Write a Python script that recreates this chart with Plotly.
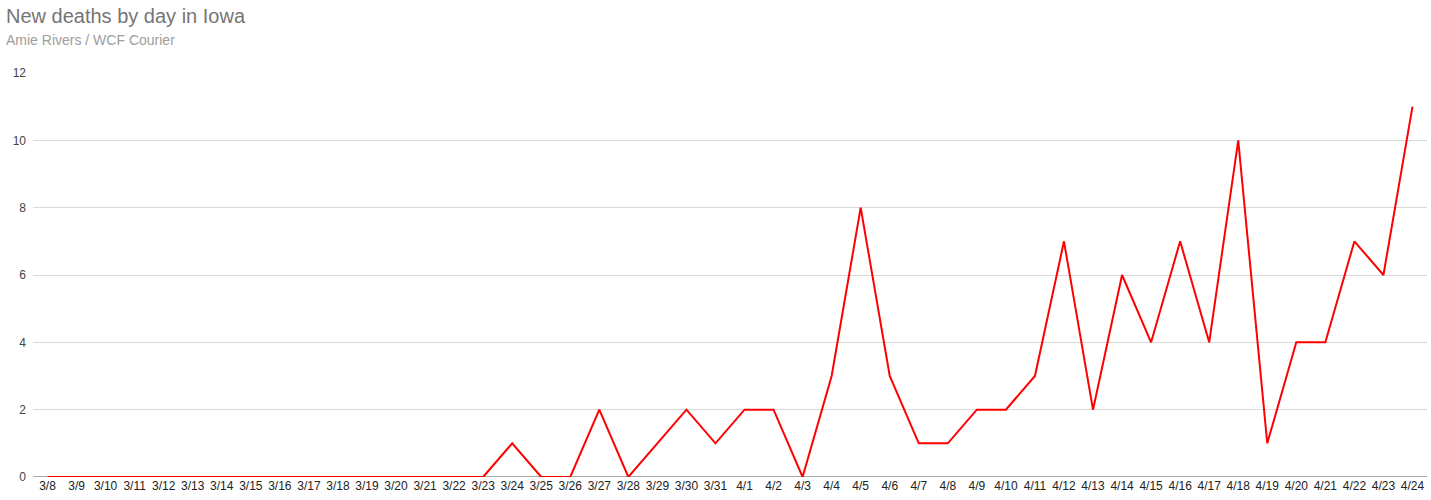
import plotly.graph_objects as go

dates = [f"3/{d}" for d in range(8, 32)] + [f"4/{d}" for d in range(1, 25)]
deaths = [0]*16 + [1, 0, 0, 2, 0, 1, 2, 1,
                   2, 2, 0, 3, 8, 3, 1, 1, 2, 2, 3, 7, 2, 6, 4, 7, 4, 10, 1, 4, 4, 7, 6, 11]
y_ticks = [0, 2, 4, 6, 8, 10, 12]

fig = go.Figure()
fig.add_trace(go.Scatter(x=list(range(len(dates))), y=deaths, mode="lines",
                         line=dict(color="#ff0000", width=2), hoverinfo="skip"))

fig.update_layout(
    width=1431, height=500,
    margin=dict(l=33, r=4, t=73, b=23),
    paper_bgcolor="white", plot_bgcolor="white",
    font=dict(family="Arial, Liberation Sans, sans-serif", color="#222222", size=12),
    showlegend=False,
    xaxis=dict(range=[-0.5, len(dates) - 0.5], tickmode="array",
               tickvals=list(range(len(dates))), ticktext=dates,
               showgrid=False, zeroline=False, showline=False,
               ticks="", tickfont=dict(size=12, color="#222222")),
    yaxis=dict(range=[0, 12], tickvals=y_ticks, showgrid=True, gridcolor="#d9d9d9",
               gridwidth=1, zeroline=False, showline=False, ticks="",
               tickfont=dict(size=12, color="#444444"), ticklabelstandoff=6),
)
fig.add_shape(type="line", xref="paper", yref="y", x0=0, x1=1, y0=0, y1=0,
              line=dict(color="#555555", width=1), layer="below")
fig.add_annotation(text="New deaths by day in Iowa", xref="paper", yref="paper",
                   x=-29/1394, y=1 + (73-16)/404, xanchor="left", yanchor="middle",
                   showarrow=False, font=dict(size=20, color="#757575"))
fig.add_annotation(text="Amie Rivers / WCF Courier", xref="paper", yref="paper",
                   x=-29/1394, y=1 + (73-40)/404, xanchor="left", yanchor="middle",
                   showarrow=False, font=dict(size=14, color="#9e9e9e"))
fig.write_html("out.html", config={"displayModeBar": False},
               post_script="document.body.style.margin='0';")
